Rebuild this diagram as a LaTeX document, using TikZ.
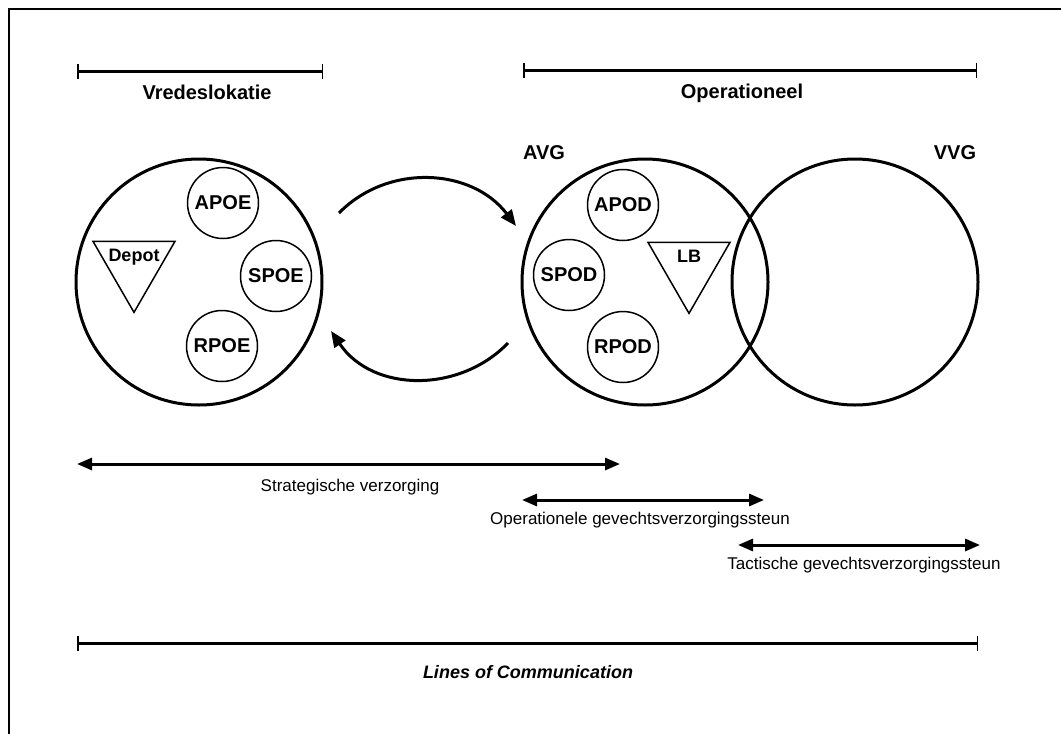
\documentclass[tikz,border=0pt]{standalone}
\usepackage{fontspec}
\setmainfont{Liberation Sans}
\usetikzlibrary{arrows.meta,shapes.geometric}
\begin{document}
\begin{tikzpicture}[x=1pt,y=-1pt,
  big/.style={draw,circle,line width=3pt,minimum size=246pt,inner sep=0pt},
  small/.style={draw,circle,line width=1.5pt,minimum size=71pt,inner sep=0pt,font=\fontsize{20}{24}\selectfont\bfseries},
  tri/.style={draw,regular polygon,regular polygon sides=3,shape border rotate=180,minimum size=94.7pt,inner sep=0pt,line width=1.5pt},
  head/.style={font=\fontsize{20}{24}\selectfont\bfseries},
  lab/.style={font=\fontsize{17}{20}\selectfont},
  bar/.style={line width=3pt,{Bar[width=15pt,line width=1.5pt]}-{Bar[width=15pt,line width=1.5pt]}},
  dbl/.style={line width=3pt,{Triangle[length=15pt,width=12pt]}-{Triangle[length=15pt,width=12pt]}},
  cyc/.style={line width=3pt,-{Triangle[length=16pt,width=13pt]}}]
\useasboundingbox (0,0) rectangle (1061,734);
\draw[line width=2pt] (9,734) -- (9,9) -- (1061,9);
% top brackets
\coordinate (v1) at (77,71); \coordinate (v2) at (323,71);
\draw[bar] (v1) -- (v2);
\node[head] (vred) at (207,92) {Vredeslokatie};
\coordinate (o1) at (523,70); \coordinate (o2) at (977,70);
\draw[bar] (o1) -- (o2);
\node[head] (oper) at (742,93) {Operationeel};
\node[head] (avg) at (544,153) {AVG};
\node[head] (vvg) at (955,153) {VVG};
% left circle
\node[big] (L) at (199,282) {};
\node[small] (apoe) at (223,203) {APOE};
\node[small] (spoe) at (276,276) {SPOE};
\node[small] (rpoe) at (222,346) {RPOE};
\node[tri] (depot) at (134,265) {};
\node[font=\fontsize{18}{22}\selectfont\bfseries] (depotl) at (134,257) {Depot};
% right circles
\node[big] (A) at (645,282) {};
\node[big] (V) at (855,282) {};
\node[small] (apod) at (623,205) {APOD};
\node[small] (spod) at (569,275) {SPOD};
\node[small] (rpod) at (623,347) {RPOD};
\node[tri] (lb) at (689,266) {};
\node[font=\fontsize{18}{22}\selectfont\bfseries] (lbl) at (689,256) {LB};
% cycle arrows
\coordinate (a1) at (339,213); \coordinate (a2) at (516,226);
\draw[cyc] (a1) .. controls (388,163) and (472,168) .. (a2);
\coordinate (b1) at (508,343); \coordinate (b2) at (331,331);
\draw[cyc] (b1) .. controls (460,393) and (373,393) .. (b2);
% bottom arrows
\coordinate (s1) at (77,464); \coordinate (s2) at (620,464);
\draw[dbl] (s1) -- (s2);
\node[lab] (strat) at (350,487) {Strategische verzorging};
\coordinate (p1) at (522,500); \coordinate (p2) at (764,500);
\draw[dbl] (p1) -- (p2);
\node[lab] (opgv) at (640,520) {Operationele gevechtsverzorgingssteun};
\coordinate (t1) at (738,545); \coordinate (t2) at (980,545);
\draw[dbl] (t1) -- (t2);
\node[lab] (tact) at (864,565) {Tactische gevechtsverzorgingssteun};
\coordinate (l1) at (77,643); \coordinate (l2) at (978,643);
\draw[bar] (l1) -- (l2);
\node[font=\fontsize{18}{22}\selectfont\bfseries\itshape] (loc) at (528,672) {Lines of Communication};
\end{tikzpicture}
\end{document}
